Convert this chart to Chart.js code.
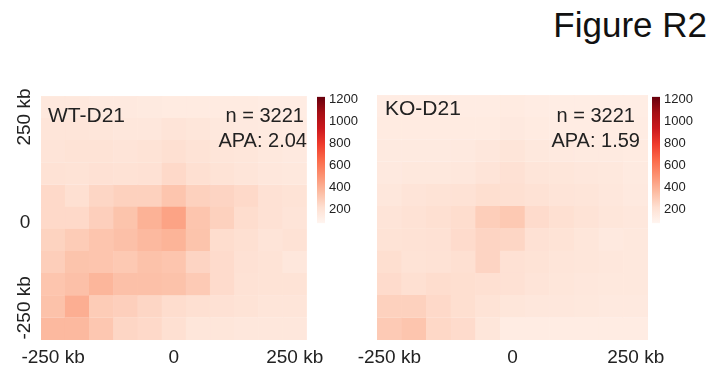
<!DOCTYPE html>
<html>
<head>
<meta charset="utf-8">
<script src="https://cdn.jsdelivr.net/npm/chart.js@4/dist/chart.umd.min.js"></script>
<style>
  body { margin: 0; background: #fff; }
  #page { position: relative; width: 713px; height: 367px; overflow: hidden; font-family: "Liberation Sans", Arial, sans-serif; color: #222; }
  #page canvas { position: absolute; }
  .txt { position: absolute; white-space: nowrap; line-height: 1; }
</style>
</head>
<body>
<div id="page">
  <canvas id="hmWT" width="330" height="282" style="left:0;top:85px"></canvas>
  <canvas id="cbWT" width="52" height="150" style="left:310px;top:85px"></canvas>
  <canvas id="hmKO" width="340" height="282" style="left:345px;top:85px"></canvas>
  <canvas id="cbKO" width="52" height="150" style="left:645px;top:85px"></canvas>

  <div class="txt" style="right:6px;top:7px;font-size:35px;color:#111">Figure R2</div>

  <div class="txt" style="left:48px;top:104px;font-size:21px">WT-D21</div>
  <div class="txt" style="right:409px;top:105px;font-size:20px">n = 3221</div>
  <div class="txt" style="right:406px;top:130px;font-size:20px">APA: 2.04</div>

  <div class="txt" style="left:385px;top:97px;font-size:21px">KO-D21</div>
  <div class="txt" style="right:78px;top:105px;font-size:20px">n = 3221</div>
  <div class="txt" style="right:73px;top:130px;font-size:20px">APA: 1.59</div>
</div>

<script>
// APA heatmaps, 11 x 11 bins, rows listed top to bottom
const xLabels = ['-250 kb', '', '', '', '', '0', '', '', '', '', '250 kb'];
const yLabels = ['250 kb', '0', '-250 kb'];
const yLabelPos = [10.05, 5.3, 1.45];

const wtValues = [
    [170, 170, 163, 163, 157, 150, 150, 150, 150, 144, 144],
    [189, 189, 183, 176, 176, 196, 183, 170, 163, 157, 150],
    [196, 202, 202, 196, 202, 222, 202, 189, 183, 170, 163],
    [209, 202, 215, 209, 215, 248, 222, 202, 189, 176, 170],
    [248, 222, 261, 280, 280, 326, 280, 267, 248, 215, 202],
    [248, 248, 287, 332, 397, 449, 326, 280, 235, 215, 196],
    [274, 300, 326, 345, 371, 391, 332, 235, 222, 196, 209],
    [293, 332, 326, 313, 339, 326, 267, 241, 215, 202, 176],
    [326, 345, 384, 345, 345, 339, 306, 241, 209, 202, 202],
    [339, 410, 300, 287, 261, 235, 222, 215, 202, 189, 189],
    [371, 371, 319, 261, 248, 222, 183, 183, 176, 176, 176]
];

const koValues = [
    [144, 144, 144, 144, 144, 150, 144, 137, 137, 137, 137],
    [150, 150, 150, 150, 150, 163, 150, 144, 144, 144, 144],
    [157, 157, 157, 163, 176, 189, 170, 163, 157, 157, 150],
    [163, 170, 170, 176, 196, 215, 189, 183, 176, 170, 157],
    [176, 196, 202, 209, 228, 222, 209, 196, 189, 176, 163],
    [196, 209, 222, 235, 293, 313, 241, 222, 202, 183, 176],
    [202, 209, 215, 241, 267, 261, 215, 202, 183, 163, 170],
    [228, 202, 209, 222, 267, 215, 202, 189, 183, 176, 170],
    [241, 222, 235, 228, 222, 215, 196, 183, 176, 170, 170],
    [280, 280, 248, 228, 202, 183, 176, 176, 170, 163, 163],
    [306, 326, 254, 241, 183, 144, 144, 144, 144, 144, 144]
];

// colour bar
const cbMin = 80;
const cbMax = 1220;
const cbTicks = [200, 400, 600, 800, 1000, 1200];

// matplotlib "Reds"
const reds = ['#fff5f0', '#fee0d2', '#fcbba1', '#fc9272', '#fb6a4a', '#ef3b2c', '#cb181d', '#a50f15', '#67000d'];

function hexToRgb(h) {
    return [parseInt(h.slice(1, 3), 16), parseInt(h.slice(3, 5), 16), parseInt(h.slice(5, 7), 16)];
}

function valueColor(v) {
    let t = (v - cbMin) / (cbMax - cbMin);
    t = Math.max(0, Math.min(1, t)) * (reds.length - 1);
    const i = Math.min(Math.floor(t), reds.length - 2);
    const f = t - i;
    const a = hexToRgb(reds[i]), b = hexToRgb(reds[i + 1]);
    const c = a.map((x, k) => Math.round(x + (b[k] - x) * f));
    return `rgb(${c[0]}, ${c[1]}, ${c[2]})`;
}

const textColor = '#222';
const fontFamily = '"Liberation Sans", Arial, sans-serif';

// y labels: "0" stays upright, the kb labels read bottom to top
const yLabelPlugin = {
    id: 'yLabels',
    afterDraw(chart, args, opts) {
        if (!opts.show) return;
        const ctx = chart.ctx;
        const yScale = chart.scales.y;
        ctx.save();
        ctx.font = '19px ' + fontFamily;
        ctx.fillStyle = textColor;
        ctx.textAlign = 'center';
        ctx.textBaseline = 'middle';
        yLabels.forEach((lab, i) => {
            ctx.save();
            ctx.translate(chart.chartArea.left - 16, yScale.getPixelForValue(yLabelPos[i]));
            if (lab !== '0') ctx.rotate(-Math.PI / 2);
            ctx.fillText(lab, 0, 0);
            ctx.restore();
        });
        ctx.restore();
    }
};

function makeHeatmap(id, values, padding, showY) {
    // stacked from the bottom row up
    const datasets = values.slice().reverse().map(row => ({
        data: row.map(() => 1),
        backgroundColor: row.map(valueColor),
        borderColor: row.map(valueColor),
        borderWidth: 0.5,
        barPercentage: 1,
        categoryPercentage: 1
    }));

    return new Chart(document.getElementById(id), {
        type: 'bar',
        data: { labels: xLabels, datasets: datasets },
        options: {
            responsive: false,
            animation: false,
            layout: { padding: padding },
            plugins: {
                legend: { display: false },
                tooltip: { enabled: false },
                yLabels: { show: showY }
            },
            scales: {
                x: {
                    stacked: true,
                    grid: { display: false, drawTicks: false },
                    border: { display: false },
                    ticks: {
                        autoSkip: false,
                        maxRotation: 0,
                        padding: 6,
                        color: textColor,
                        font: { size: 19, family: fontFamily }
                    },
                    afterFit: s => { s.height = 27; }
                },
                y: {
                    stacked: true,
                    display: false,
                    min: 0,
                    max: values.length
                }
            }
        },
        plugins: [yLabelPlugin]
    });
}

function makeColorbar(id) {
    return new Chart(document.getElementById(id), {
        type: 'bar',
        data: {
            labels: [''],
            datasets: [{
                data: [[cbMin, cbMax]],
                barPercentage: 1,
                categoryPercentage: 1,
                borderWidth: 0,
                backgroundColor: function(context) {
                    const chart = context.chart;
                    const y = chart.scales.y;
                    if (!chart.chartArea || !y) return reds[0];
                    const g = chart.ctx.createLinearGradient(0, y.getPixelForValue(cbMin), 0, y.getPixelForValue(cbMax));
                    reds.forEach((c, i) => g.addColorStop(i / (reds.length - 1), c));
                    return g;
                }
            }]
        },
        options: {
            responsive: false,
            animation: false,
            layout: { padding: { left: 7, top: 10, bottom: 8, right: 0 } },
            plugins: { legend: { display: false }, tooltip: { enabled: false } },
            scales: {
                x: { display: false },
                y: {
                    position: 'right',
                    min: cbMin,
                    max: cbMax,
                    grid: { display: false, drawTicks: false },
                    border: { display: false },
                    afterBuildTicks: s => { s.ticks = cbTicks.map(v => ({ value: v })); },
                    ticks: {
                        padding: 4,
                        color: textColor,
                        font: { size: 13, family: fontFamily },
                        callback: v => String(v)
                    },
                    afterFit: s => { s.width = 37; }
                }
            }
        }
    });
}

makeHeatmap('hmWT', wtValues, { left: 41, top: 11, right: 17, bottom: 0 }, true);
makeColorbar('cbWT');
makeHeatmap('hmKO', koValues, { left: 32, top: 10, right: 37, bottom: 0 }, false);
makeColorbar('cbKO');
</script>
</body>
</html>
